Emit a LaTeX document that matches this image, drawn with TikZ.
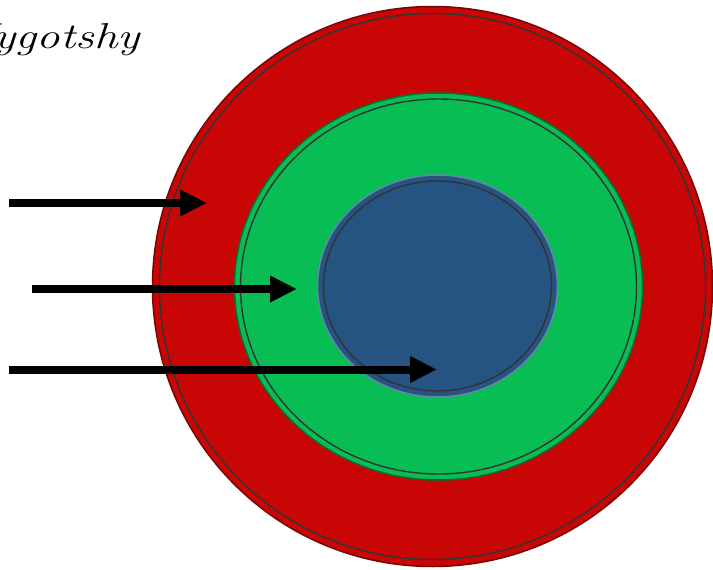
\documentclass[tikz,border=0pt]{standalone}
\usetikzlibrary{arrows.meta}
\definecolor{outerred}{RGB}{200,6,6}
\definecolor{midgreen}{RGB}{9,189,85}
\definecolor{innerblue}{RGB}{37,84,130}
\tikzset{
  pointer/.style={line width=8pt, -{Triangle[length=27pt, width=25pt]}},
  groove/.style={black!80, line width=1.4pt}
}
\begin{document}
\begin{tikzpicture}[x=1pt, y=-1pt]
\useasboundingbox (0,0) rectangle (713,570);

% rings, outside in
\draw [fill=outerred, draw=outerred!60!black, line width=1.5pt] (432.5,286.5) ellipse [x radius=280pt, y radius=280pt];
\draw [groove] (432.5,286.5) ellipse [x radius=273pt, y radius=273pt];
\draw [fill=midgreen, draw=midgreen!60!black, line width=1.5pt] (438.5,286.5) ellipse [x radius=204pt, y radius=193.5pt];
\draw [groove] (438.5,286.5) ellipse [x radius=198pt, y radius=187.5pt];
\draw [fill=innerblue, draw=innerblue!70!white, line width=1.5pt] (437.5,286) ellipse [x radius=120pt, y radius=111pt];
\draw [groove] (437.5,286) ellipse [x radius=114pt, y radius=105pt];

\node [anchor=base east, inner sep=0pt, xscale=1.3, font=\itshape\fontsize{36}{42}\selectfont] (title) at (140,48) {Vygotshy};

\coordinate (redtail) at (9,203);
\coordinate (redtip) at (207,203);
\coordinate (greentail) at (32,289);
\coordinate (greentip) at (297,289);
\coordinate (bluetail) at (9,369.5);
\coordinate (bluetip) at (437,369.5);

\draw [pointer] (redtail) -- (redtip);
\draw [pointer] (greentail) -- (greentip);
\draw [pointer] (bluetail) -- (bluetip);

\end{tikzpicture}
\end{document}
